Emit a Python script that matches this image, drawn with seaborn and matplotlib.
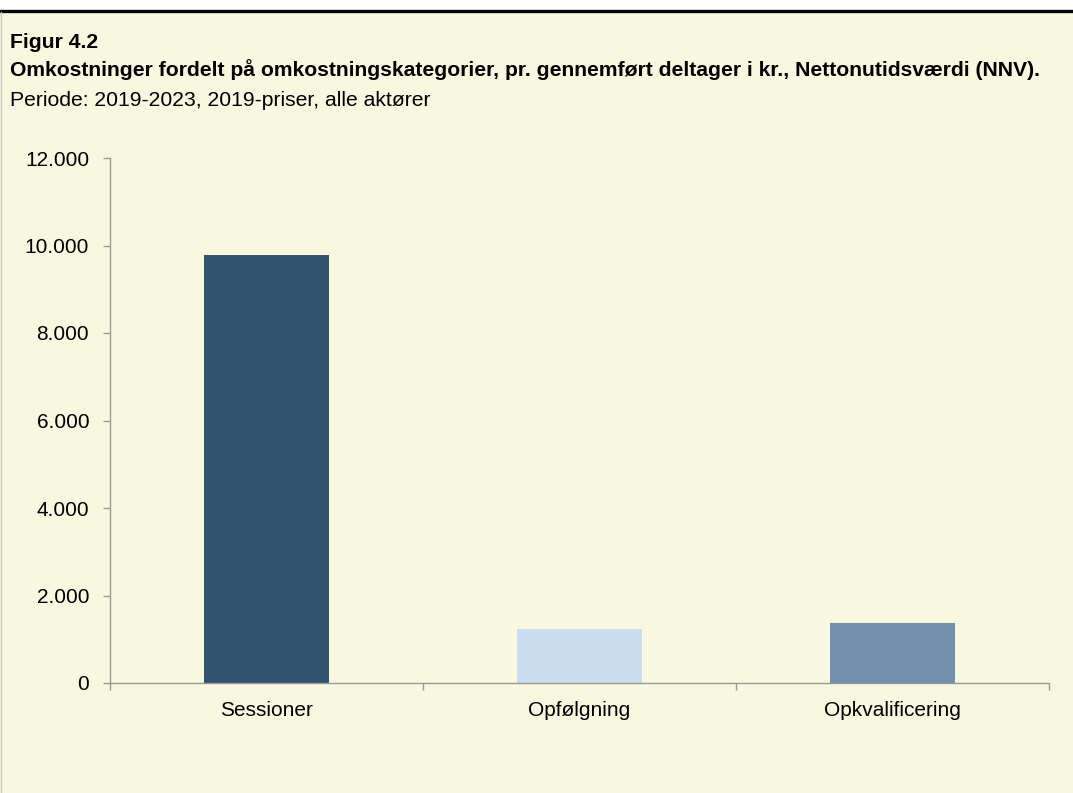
import matplotlib
matplotlib.use("Agg")
import matplotlib.pyplot as plt
import matplotlib.ticker as mticker
from matplotlib.patches import Rectangle
from matplotlib.lines import Line2D
import seaborn as sns
import pandas as pd

# Data
categories = ["Sessioner", "Opfølgning", "Opkvalificering"]
values = [9780, 1235, 1370]
bar_colors = ["#30536f", "#ccdcf0", "#7090ae"]

fig_title = "Figur 4.2"
chart_title = "Omkostninger fordelt på omkostningskategorier, pr. gennemført deltager i kr., Nettonutidsværdi (NNV)."
subtitle = "Periode: 2019-2023, 2019-priser, alle aktører"

BG = "#f8f8e1"

sns.set_theme(style="white")
plt.rcParams["font.family"] = ["Liberation Sans", "DejaVu Sans"]
plt.rcParams["text.color"] = "black"

W, H = 1073, 793
fig = plt.figure(figsize=(W / 100, H / 100), dpi=100)
fig.patch.set_facecolor("white")

# cream panel below the black top rule
fig.add_artist(Rectangle((0, 0), 1, 1 - 12 / H, transform=fig.transFigure,
                         facecolor=BG, edgecolor="none", zorder=-10))
fig.add_artist(Line2D([0, 1], [1 - 11 / H, 1 - 11 / H], transform=fig.transFigure,
                      color="black", linewidth=2.4))
fig.add_artist(Line2D([0.5 / W, 0.5 / W], [0, 1 - 12 / H], transform=fig.transFigure,
                      color="#c8c8c8", linewidth=1))

fig.text(10 / W, 1 - 48 / H, fig_title, fontsize=15.2, fontweight="bold", va="baseline", ha="left")
fig.text(10 / W, 1 - 76 / H, chart_title, fontsize=15.2, fontweight="bold", va="baseline", ha="left")
fig.text(10 / W, 1 - 106 / H, subtitle, fontsize=15.2, va="baseline", ha="left")

ax = fig.add_axes([110 / W, 1 - 683 / H, (1049 - 110) / W, (683 - 158) / H])
ax.set_facecolor(BG)

df = pd.DataFrame({"kategori": categories, "kr": values})
sns.barplot(data=df, x="kategori", y="kr", hue="kategori", palette=bar_colors,
            width=0.4, legend=False, ax=ax, saturation=1, linewidth=0, edgecolor="none")

ax.set_ylim(0, 12000)
ax.set_xlim(-0.5, 2.5)
ax.yaxis.set_major_locator(mticker.MultipleLocator(2000))
ax.yaxis.set_major_formatter(mticker.FuncFormatter(lambda v, p: f"{int(v):,}".replace(",", ".")))
ax.set_xticks([-0.5, 0.5, 1.5, 2.5], minor=False)
ax.set_xticklabels([])
ax.set_xticks([0, 1, 2], minor=True)
ax.set_xticklabels(categories, minor=True)
ax.set_xlabel("")
ax.set_ylabel("")

for side in ["top", "right"]:
    ax.spines[side].set_visible(False)
for side in ["left", "bottom"]:
    ax.spines[side].set_color("#999999")
    ax.spines[side].set_linewidth(1)

ax.tick_params(axis="y", which="major", length=5, width=1, color="#999999",
               left=True, labelsize=15, pad=10, labelcolor="black")
ax.tick_params(axis="x", which="major", length=5, width=1, color="#999999",
               bottom=True, direction="out")
ax.tick_params(axis="x", which="minor", length=0, labelsize=15, pad=13, labelcolor="black")

fig.savefig("out.png", dpi=100, facecolor=fig.get_facecolor())
